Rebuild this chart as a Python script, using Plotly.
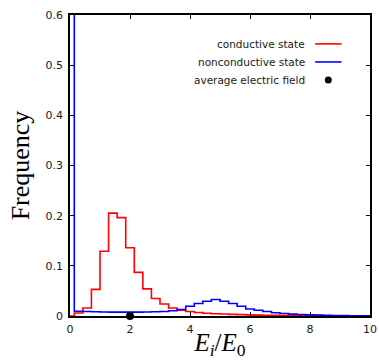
import plotly.graph_objects as go

# Histogram bins: 35 bins of equal width on [0, 10], values given at bin centres
n_bins = 35
e_max = 10.0
bin_centres = [k * e_max / n_bins for k in range(n_bins + 1)]

# Frequency of E_i/E_0 in the conductive state
conductive = [0.0, 0.006, 0.016, 0.053, 0.129, 0.205, 0.196, 0.136, 0.087,
              0.054, 0.035, 0.024, 0.016, 0.0115, 0.009, 0.007, 0.0055,
              0.0045, 0.004, 0.0032, 0.0027, 0.0022, 0.0018, 0.0015, 0.0013,
              0.0011, 0.001, 0.0009, 0.0008, 0.0007, 0.0006, 0.0005, 0.0005,
              0.0004, 0.0003, 0.0003]

# Frequency of E_i/E_0 in the nonconductive state (first bin runs off the top)
nonconductive = [0.75, 0.0095, 0.009, 0.0085, 0.008, 0.0078, 0.0077, 0.0077,
                 0.0078, 0.008, 0.0085, 0.009, 0.0105, 0.013, 0.0195, 0.025,
                 0.0295, 0.033, 0.0295, 0.025, 0.0195, 0.014, 0.0115, 0.009,
                 0.0065, 0.005, 0.0037, 0.003, 0.0022, 0.0017, 0.0013, 0.001,
                 0.0008, 0.0006, 0.0004, 0.0003]

# Average electric field (in units of E_0)
avg_field_x = [2.0]
avg_field_y = [0.0]

legend_labels = ["conductive state", "nonconductive state", "average electric field"]

x_ticks = [0, 2, 4, 6, 8, 10]
y_ticks = [0, 0.1, 0.2, 0.3, 0.4, 0.5, 0.6]

RED = "#ff0000"
BLUE = "#0000ff"
TICK_FONT = dict(family="DejaVu Sans", size=11, color="#1a1a1a")
KEY_FONT = dict(family="DejaVu Sans", size=10.5, color="#1a1a1a")
SERIF = "Liberation Serif"

fig = go.Figure()

fig.add_trace(go.Scatter(x=bin_centres, y=conductive, mode="lines",
                         line=dict(color=RED, width=1.6, shape="hvh"),
                         showlegend=False))
fig.add_trace(go.Scatter(x=bin_centres, y=nonconductive, mode="lines",
                         line=dict(color=BLUE, width=1.6, shape="hvh"),
                         showlegend=False))
fig.add_trace(go.Scatter(x=avg_field_x, y=avg_field_y, mode="markers",
                         marker=dict(color="black", size=8),
                         cliponaxis=False, showlegend=False))

# Key in the upper right: label on the left, sample on the right
row_y = [0.904, 0.844, 0.784]
text_right = 0.79
sample_x0, sample_x1 = 0.817, 0.905
for i, label in enumerate(legend_labels):
    fig.add_annotation(x=text_right, y=row_y[i], xref="paper", yref="paper",
                       text=label, showarrow=False, xanchor="right",
                       yanchor="middle", font=KEY_FONT)
for i, colour in enumerate([RED, BLUE]):
    fig.add_shape(type="line", xref="paper", yref="paper",
                  x0=sample_x0, x1=sample_x1, y0=row_y[i], y1=row_y[i],
                  line=dict(color=colour, width=1.6))
dot_x = (sample_x0 + sample_x1) / 2
fig.add_shape(type="circle", xref="paper", yref="paper",
              xsizemode="pixel", ysizemode="pixel",
              xanchor=dot_x, yanchor=row_y[2],
              x0=-3.5, x1=3.5, y0=-3.5, y1=3.5,
              fillcolor="black", line=dict(color="black", width=0))

axis_common = dict(showline=True, linecolor="black", linewidth=1.5,
                   mirror="ticks", ticks="inside", ticklen=4, tickwidth=1,
                   tickcolor="black", showgrid=False, zeroline=False,
                   tickfont=TICK_FONT, automargin=False)

fig.update_xaxes(range=[0, 10], tickvals=x_ticks, ticklabelstandoff=2,
                 title=dict(text="<i>E</i><sub><i>i</i></sub>/<i>E</i><sub>0</sub>",
                            font=dict(family=SERIF, size=25, color="black"),
                            standoff=4),
                 **axis_common)
fig.update_yaxes(range=[0, 0.6], tickvals=y_ticks, ticklabelstandoff=3,
                 title=dict(text="Frequency",
                            font=dict(family=SERIF, size=26, color="black"),
                            standoff=8),
                 **axis_common)

fig.update_layout(width=379, height=360,
                  margin=dict(l=70, r=9, t=15, b=44),
                  plot_bgcolor="white", paper_bgcolor="white")

fig.write_html("out.html")
